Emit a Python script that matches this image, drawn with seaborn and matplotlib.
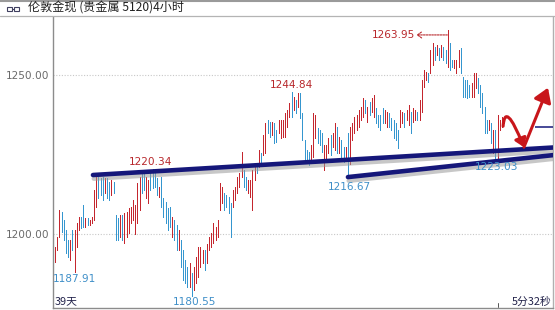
import numpy as np
import pandas as pd
import matplotlib
matplotlib.use("Agg")
import matplotlib.pyplot as plt
import matplotlib.patheffects as pe
from matplotlib.patches import FancyArrowPatch, Rectangle
from matplotlib.path import Path
from matplotlib.lines import Line2D
import seaborn as sns

# ---------------- data (4h bars: high / low / direction) ----------------
highs = [
    1196.0, 1199.1, 1207.5, 1207.0, 1204.4, 1201.3, 1198.1, 1198.1, 1201.3, 1201.3,
    1203.4, 1205.4, 1205.4, 1209.1, 1204.9, 1204.9, 1204.4, 1205.4, 1213.8, 1218.5,
    1218.0, 1217.5, 1218.0, 1217.5, 1217.5, 1216.4, 1217.0, 1216.4, 1206.0, 1204.9,
    1206.0, 1206.0, 1206.5, 1207.0, 1208.1, 1208.6,
    1210.7, 1209.0, 1216.0, 1217.9, 1219.2, 1219.5, 1217.9, 1217.0, 1219.5, 1220.3,
    1219.2, 1217.6, 1214.8, 1217.9, 1211.3, 1210.0, 1208.2, 1208.5, 1205.4, 1204.4,
    1202.8, 1201.3, 1198.1, 1195.0, 1191.8, 1189.6, 1190.9, 1187.7, 1189.6, 1192.8,
    1195.9, 1195.9, 1195.0, 1195.0, 1197.0,
    1199.0, 1200.3, 1203.4, 1202.2, 1204.4, 1216.0, 1214.8, 1212.9, 1212.3, 1211.6,
    1209.7, 1213.8, 1214.8, 1217.9, 1219.2, 1225.8, 1220.1, 1217.9, 1217.0, 1217.0,
    1220.1, 1222.3, 1221.7, 1226.4, 1225.5, 1231.1, 1234.9, 1235.9, 1235.2, 1235.2,
    1234.9, 1232.7, 1235.9, 1235.9, 1235.9, 1238.0, 1239.0, 1241.2, 1244.8, 1243.1,
    1242.1, 1244.4, 1244.4, 1238.0, 1229.6, 1226.4, 1225.8, 1228.0, 1238.0, 1237.4,
    1233.3, 1232.7, 1231.7, 1228.0, 1228.0, 1230.2, 1231.1, 1231.7, 1234.9, 1233.6,
    1230.5, 1229.6, 1227.4, 1227.4, 1231.7, 1233.6,
    1234.9, 1236.8, 1237.4, 1239.0, 1239.9, 1242.8, 1242.1, 1239.9, 1241.5, 1242.8,
    1243.7, 1239.6, 1237.4, 1237.4, 1239.6, 1239.0, 1238.4, 1238.0, 1236.5, 1235.9,
    1234.9, 1232.7, 1239.0, 1238.4, 1238.0, 1239.0, 1240.6, 1238.4, 1239.6, 1239.0,
    1238.4, 1242.1, 1248.4, 1251.6, 1250.9, 1250.6,
    1257.9, 1260.1, 1258.8, 1259.4, 1258.5, 1259.4, 1258.8, 1257.9, 1264.0, 1260.1,
    1254.7, 1254.7, 1254.7, 1257.9, 1258.5, 1249.4, 1248.4, 1248.4, 1246.9, 1247.5,
    1250.6, 1250.6, 1249.1, 1246.9, 1244.4, 1239.9, 1235.9, 1235.9, 1234.9, 1232.7,
    1232.7, 1237.4, 1235.9, 1236.8, 1236.8,
]
lows = [
    1191.3, 1195.0, 1199.1, 1200.7, 1198.1, 1193.9, 1192.9, 1191.8, 1195.0, 1187.9,
    1196.0, 1201.3, 1201.8, 1202.3, 1202.3, 1202.8, 1202.8, 1203.4, 1204.4, 1208.6,
    1211.2, 1212.3, 1210.7, 1212.8, 1211.2, 1210.7, 1212.3, 1212.8, 1198.1, 1198.1,
    1199.1, 1198.1, 1197.1, 1199.1, 1200.2, 1203.4,
    1204.4, 1200.0, 1203.4, 1207.5, 1212.9, 1213.8, 1211.3, 1209.7, 1213.8, 1214.5,
    1214.8, 1212.3, 1211.6, 1208.5, 1205.4, 1203.4, 1201.3, 1202.2, 1199.1, 1198.1,
    1195.0, 1195.0, 1189.6, 1185.5, 1184.6, 1183.3, 1183.3, 1180.6, 1182.4, 1184.6,
    1186.5, 1189.6, 1190.9, 1188.7, 1191.0,
    1195.0, 1195.9, 1197.2, 1198.1, 1199.1, 1207.5, 1209.7, 1207.5, 1208.5, 1206.6,
    1199.1, 1208.5, 1210.7, 1212.9, 1214.8, 1217.9, 1214.8, 1213.8, 1212.9, 1211.6,
    1207.5, 1217.0, 1219.2, 1221.1, 1222.3, 1224.8, 1225.5, 1231.7, 1230.5, 1231.1,
    1228.6, 1228.9, 1231.7, 1230.2, 1230.5, 1230.5, 1233.6, 1236.8, 1236.8, 1239.0,
    1238.0, 1239.9, 1236.5, 1229.6, 1222.6, 1222.3, 1221.7, 1223.3, 1224.2, 1230.2,
    1228.6, 1228.0, 1225.8, 1220.1, 1223.9, 1225.5, 1224.8, 1227.4, 1226.4, 1225.5,
    1225.5, 1223.9, 1222.6, 1223.3, 1218.0, 1222.0,
    1229.6, 1231.7, 1232.7, 1233.6, 1235.9, 1236.8, 1238.0, 1235.2, 1237.4, 1238.4,
    1236.8, 1234.9, 1233.6, 1232.7, 1234.9, 1234.9, 1233.6, 1233.6, 1232.7, 1230.2,
    1229.6, 1227.0, 1233.6, 1234.9, 1233.6, 1235.9, 1234.3, 1231.7, 1235.2, 1235.9,
    1235.9, 1235.9, 1238.4, 1246.2, 1248.4, 1247.8,
    1250.6, 1253.1, 1254.7, 1256.3, 1254.7, 1255.7, 1254.7, 1253.7, 1252.5, 1251.6,
    1252.5, 1252.2, 1250.6, 1252.5, 1250.6, 1243.1, 1243.1, 1242.8, 1243.1, 1243.1,
    1243.1, 1245.9, 1244.4, 1239.9, 1238.0, 1231.7, 1231.7, 1232.7, 1228.6, 1225.5,
    1223.0, 1224.0, 1232.7, 1233.6, 1234.9,
]
# r = up bar (red), b = down bar (blue)
directions = list(
    "rrrbbbbrbrrrbbrbrrrrbbbrbbrbbbrbrrrr"
    "rrrrbbrrbbbbrbbbbbrbbrbbbbrbrrrrrbr"
    "rrrrrrrbbbbrrrrrbbrrrrbrbrrbbrbbrrrrrrbrbrbbbbbrrrbbbrrrbrrbrbbrbr"
    "rrrrrrbrbrrbbbbrrbbbbbrrbrrbrrbrrrrb"
    "rrbrbrbbrbbrrrbbbbbrrrbbbbbrbrbrrrr"
)

ytick_values = [1200, 1250]
ytick_labels = ["1200.00", "1250.00"]
title_text = "伦敦金现 (贵金属 5120)4小时"

# price labels (text, bar position, price level, kind)
label_texts = ["1263.95", "1244.84", "1220.34", "1216.67", "1223.03", "1187.91", "1180.55"]
label_pos = [155.8, 108.8, 44.2, 135.7, 203.7, 9.2, 64.1]
label_lvl = [1262.6, 1246.9, 1222.6, 1214.8, 1221.1, 1185.9, 1178.6]
label_kind = ["high", "high", "high", "low", "low", "low", "low"]

# trend lines (bar position, price)
upper_pos = [17.5, 229.5]
upper_lvl = [1218.55, 1227.2]
lower_pos = [135.0, 229.5]
lower_lvl = [1217.9, 1224.8]

# current price line
cur_pos = [221.2, 229.5]
cur_lvl = [1233.65, 1233.65]

# forecast arrow path (bar position, price)
fc_curve_pos = [206.5, 207.4, 216.1]
fc_curve_lvl = [1233.9, 1242.1, 1227.3]
fc_up_pos = [216.1, 227.2]
fc_up_lvl = [1227.3, 1246.0]

# ---------------- styling ----------------
sns.set_theme(style="white")
plt.rcParams["font.family"] = ["DejaVu Sans", "Noto Sans CJK SC"]
CJK = ["Noto Sans CJK SC", "DejaVu Sans"]

RED = "#c4262e"
BLUE = "#3596cf"
NAVY = "#15177a"
LBL_RED = "#b8282c"
LBL_BLUE = "#3f8fc8"

W, H = 555, 310
fig = plt.figure(figsize=(W / 100, H / 100), dpi=100)
fig.patch.set_facecolor("white")
ax = fig.add_axes([53 / W, 2 / H, 500 / W, 291 / H])
ax.set_facecolor("white")

n = len(highs)
df = pd.DataFrame({"pos": np.arange(n), "high": highs, "low": lows, "dir": directions})

ax.set_xlim(-0.92, 229.5)
ax.set_ylim(1176.73, 1268.24)

# grid
for v in ytick_values:
    ax.axhline(v, color="#c8c8c8", lw=0.8, ls=(0, (1, 1.5)), zorder=0)

# bars
colors = [RED if d == "r" else BLUE for d in df["dir"]]
ax.vlines(df["pos"], df["low"], df["high"], colors=colors, linewidth=0.5,
          antialiased=False, zorder=2)

# trend lines via seaborn
shadow = [pe.SimpleLineShadow(offset=(0.6, -2.6), shadow_color="#9a9a9a", alpha=0.55),
          pe.Normal()]
sns.lineplot(x=upper_pos, y=upper_lvl, ax=ax, color=NAVY, lw=3.3,
             path_effects=shadow, zorder=4, legend=False)
sns.lineplot(x=lower_pos, y=lower_lvl, ax=ax, color=NAVY, lw=3.3,
             path_effects=shadow, zorder=4, legend=False)
ax.plot(cur_pos, cur_lvl, color=NAVY, lw=1.1, zorder=3, solid_capstyle="butt")

# forecast arrows
curve = Path(list(zip(fc_curve_pos, fc_curve_lvl)),
             [Path.MOVETO, Path.CURVE3, Path.CURVE3])
arr1 = FancyArrowPatch(path=curve, arrowstyle="-|>,head_length=5,head_width=3.5",
                       color="#c8161b", lw=2.2, zorder=6)
ax.add_patch(arr1)
ax.annotate("", xy=(fc_up_pos[1], fc_up_lvl[1]), xytext=(fc_up_pos[0], fc_up_lvl[0]),
            arrowprops=dict(arrowstyle="-|>,head_length=0.7,head_width=0.45",
                            color="#c8161b", lw=2.2, shrinkA=0, shrinkB=0), zorder=6)

# price labels
for t, x, y, k in zip(label_texts, label_pos, label_lvl, label_kind):
    ax.text(x, y, t, ha="center", va="center", fontsize=7.6,
            color=LBL_RED if k == "high" else LBL_BLUE, zorder=7)

# dashed arrow from peak to label
ax.annotate("", xy=(166.6, label_lvl[0]), xytext=(180.8, label_lvl[0]),
            arrowprops=dict(arrowstyle="->,head_length=0.25,head_width=0.18",
                            color=LBL_RED, lw=0.8, linestyle=(0, (1.5, 1)),
                            shrinkA=0, shrinkB=0))

# bottom texts
ax.text(0.0, 1178.9, "39天", ha="left", va="center", fontsize=7.8,
        color="#22224a", family=CJK)
ax.text(229.0, 1178.7, "5分32秒", ha="right", va="center", fontsize=7.8,
        color="#22224a", family=CJK)
ax.plot([204.0, 204.0], [1176.9, 1178.3], color="#555", lw=0.7)

# axes cosmetics
ax.set_yticks(ytick_values)
ax.set_yticklabels(ytick_labels, fontsize=7.6, color="#6a6a6a")
ax.set_xticks([])
ax.tick_params(axis="y", length=0, pad=2.5)
for s in ["left", "bottom"]:
    ax.spines[s].set_color("#8c8c8c")
    ax.spines[s].set_linewidth(1.0)
ax.spines["right"].set_color("#b0b0b0")
ax.spines["right"].set_linewidth(1.0)
ax.spines["top"].set_visible(False)

# title bar
fig.add_artist(Line2D([0, 1], [1 - 0.8 / H, 1 - 0.8 / H], color="#9a9a9a", lw=1.5))
fig.add_artist(Line2D([0, 1], [1 - 16 / H, 1 - 16 / H], color="#b4b4b4", lw=0.9))
for x0 in (7, 14):
    fig.add_artist(Rectangle((x0 / W, 1 - 10.5 / H), 5 / W, 3.5 / H, fill=False,
                             edgecolor="#404060", lw=0.8))
fig.add_artist(Line2D([12 / W, 14 / W], [1 - 8.7 / H, 1 - 8.7 / H], color="#404060", lw=0.8))
fig.text(28 / W, 1 - 8.5 / H, title_text, ha="left", va="center", fontsize=8.7,
         color="#202020", family=CJK)

fig.savefig("out.png", dpi=100, facecolor="white")
